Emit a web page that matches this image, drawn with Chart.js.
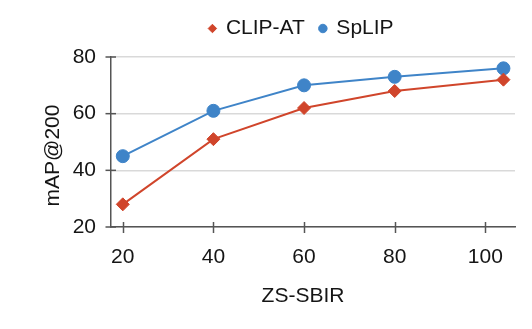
<!DOCTYPE html>
<html><head><meta charset="utf-8">
<script src="https://cdn.jsdelivr.net/npm/chart.js@4/dist/chart.umd.min.js"></script>
<style>html,body{margin:0;padding:0;background:#fff}#wrap{width:532px;height:329px}</style>
</head><body><div id="wrap"><canvas id="c" width="532" height="329"></canvas></div>
<script>
const SERIES_NAMES = ['CLIP-AT', 'SpLIP'];
const X_VALUES = [20, 40, 60, 80, 104];
const CLIP_AT = [28, 51, 62, 68, 72];
const SPLIP = [45, 61, 70, 73, 76];
const X_TICKS = [20, 40, 60, 80, 100];
const Y_TICKS = [20, 40, 60, 80];
const X_TITLE = 'ZS-SBIR';
const Y_TITLE = 'mAP@200';

const RED = '#d0452b';
const BLUE = '#3f84c8';
const TEXT = '#151515';
const AXIS = '#555555';
const GRID = '#d9d9d9';
const FAMILY = '"Liberation Sans", Arial, sans-serif';

const toPts = ys => X_VALUES.map((x, i) => ({x: x, y: ys[i]}));

const tweaks = {
  id: 'tweaks',
  afterLayout(chart) {
    const lg = chart.legend;
    if (lg) { lg.left += 44; lg.right += 44; lg.top -= 8; lg.bottom -= 8; }
  },
  beforeDatasetsDraw(chart) {
    const ctx = chart.ctx, xs = chart.scales.x, ys = chart.scales.y;
    ctx.save();
    ctx.strokeStyle = AXIS; ctx.lineWidth = 1.5;
    X_TICKS.forEach(v => {
      const px = Math.round(xs.getPixelForValue(v)) + 0.5;
      ctx.beginPath(); ctx.moveTo(px, ys.bottom - 5); ctx.lineTo(px, ys.bottom + 6); ctx.stroke();
    });
    Y_TICKS.forEach(v => {
      const py = ys.getPixelForValue(v);
      ctx.beginPath(); ctx.moveTo(xs.left - 5.5, py); ctx.lineTo(xs.left + 5, py); ctx.stroke();
    });
    ctx.restore();
  },
  afterDraw(chart) {
    const ctx = chart.ctx, xs = chart.scales.x, ys = chart.scales.y;
    ctx.save();
    ctx.font = '21px ' + FAMILY; ctx.fillStyle = TEXT;
    ctx.textAlign = 'center'; ctx.textBaseline = 'alphabetic';
    ctx.fillText(X_TITLE, (xs.left + xs.right) / 2 - 10, 301.5);
    ctx.translate(59, (ys.top + ys.bottom) / 2 + 13.5);
    ctx.rotate(-Math.PI / 2);
    ctx.fillText(Y_TITLE, 0, 0);
    ctx.restore();
  }
};

new Chart(document.getElementById('c'), {
  type: 'line',
  data: {
    datasets: [
      {label: SERIES_NAMES[0], data: toPts(CLIP_AT), borderColor: RED, backgroundColor: RED,
       borderWidth: 2, pointStyle: 'rectRot', pointRadius: 6.5, pointBorderWidth: 1,
       pointBackgroundColor: RED, pointBorderColor: RED, tension: 0},
      {label: SERIES_NAMES[1], data: toPts(SPLIP), borderColor: BLUE, backgroundColor: BLUE,
       borderWidth: 2, pointStyle: 'circle', pointRadius: 6.5, pointBorderWidth: 1,
       pointBackgroundColor: BLUE, pointBorderColor: BLUE, tension: 0}
    ]
  },
  options: {
    responsive: false, animation: false, devicePixelRatio: 1,
    layout: {padding: {left: 0, right: 17, top: 11, bottom: 0}},
    plugins: {
      tooltip: {enabled: false},
      legend: {
        display: true, position: 'top', align: 'center',
        labels: {usePointStyle: true, boxWidth: 6, boxHeight: 6, padding: 15,
                 color: TEXT, font: {family: FAMILY, size: 21}}
      }
    },
    scales: {
      x: {
        type: 'linear', min: 17.4, max: 106.55,
        afterBuildTicks: s => { s.ticks = X_TICKS.map(v => ({value: v})); },
        afterFit: s => { s.height = 102; },
        grid: {display: false, drawTicks: false},
        border: {display: true, color: AXIS, width: 1.5},
        ticks: {color: TEXT, font: {family: FAMILY, size: 21}, padding: 18, autoSkip: false, maxRotation: 0}
      },
      y: {
        min: 20, max: 80,
        afterBuildTicks: s => { s.ticks = Y_TICKS.map(v => ({value: v})); },
        afterFit: s => { s.width = 111; },
        grid: {color: GRID, lineWidth: 1.5, drawTicks: false},
        border: {display: true, color: AXIS, width: 1.5},
        ticks: {color: TEXT, font: {family: FAMILY, size: 21}, padding: 15}
      }
    }
  },
  plugins: [tweaks]
});
</script>
</body></html>
